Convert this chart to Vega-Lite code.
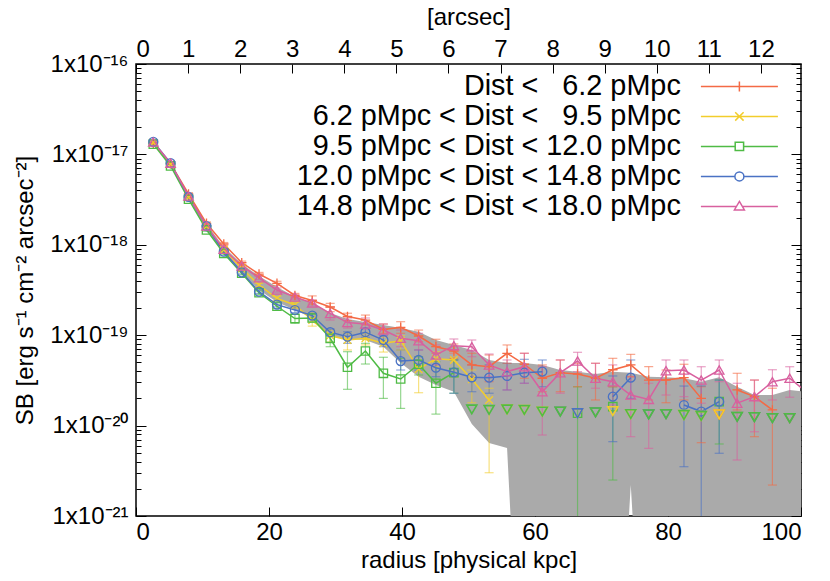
{
  "$schema": "https://vega.github.io/schema/vega-lite/v6.json",
  "description": "Surface brightness profiles in five distance bins, with the stacked 1-sigma band and upper limits.",
  "width": 665,
  "height": 452,
  "autosize": "none",
  "padding": {"left": 136, "top": 64, "right": 29, "bottom": 65},
  "config": {
    "font": "Liberation Sans",
    "view": {"stroke": "#000", "strokeWidth": 1.5},
    "axis": {
      "domain": false, "grid": false, "labelFontSize": 24, "titleFontSize": 24,
      "labelColor": "#000", "titleColor": "#000", "titleFontWeight": "normal",
      "tickColor": "#000", "tickWidth": 1, "labelOverlap": false
    },
    "point": {"filled": false, "size": 85, "strokeWidth": 1.3, "opacity": 1}
  },
  "datasets": {
    "band": [
      {"x": 2.6, "lo": 1.30e-17, "hi": 1.41e-17},
      {"x": 5.2, "lo": 7.44e-18, "hi": 8.03e-18},
      {"x": 7.9, "lo": 3.21e-18, "hi": 3.56e-18},
      {"x": 10.6, "lo": 1.46e-18, "hi": 1.70e-18},
      {"x": 13.2, "lo": 8.11e-19, "hi": 9.46e-19},
      {"x": 15.9, "lo": 5.0e-19, "hi": 6.13e-19},
      {"x": 18.5, "lo": 3.16e-19, "hi": 4.52e-19},
      {"x": 21.2, "lo": 2.33e-19, "hi": 3.41e-19},
      {"x": 23.9, "lo": 1.90e-19, "hi": 2.67e-19},
      {"x": 26.5, "lo": 1.55e-19, "hi": 2.27e-19},
      {"x": 29.2, "lo": 9.62e-20, "hi": 1.76e-19},
      {"x": 31.8, "lo": 9.08e-20, "hi": 1.51e-19},
      {"x": 34.5, "lo": 8.85e-20, "hi": 1.40e-19},
      {"x": 37.2, "lo": 7.46e-20, "hi": 1.30e-19},
      {"x": 39.8, "lo": 4.93e-20, "hi": 1.20e-19},
      {"x": 42.5, "lo": 3.47e-20, "hi": 1.09e-19},
      {"x": 45.1, "lo": 2.81e-20, "hi": 8.85e-20},
      {"x": 47.8, "lo": 2.37e-20, "hi": 7.80e-20},
      {"x": 50.5, "lo": 1.04e-20, "hi": 6.86e-20},
      {"x": 53.1, "lo": 6.42e-21, "hi": 5.32e-20},
      {"x": 55.8, "lo": 5.65e-21, "hi": 4.92e-20},
      {"x": 58.4, "lo": 1e-24, "hi": 4.92e-20},
      {"x": 61.1, "lo": 1e-24, "hi": 4.69e-20},
      {"x": 63.8, "lo": 1e-24, "hi": 4.12e-20},
      {"x": 66.4, "lo": 1e-24, "hi": 3.95e-20},
      {"x": 69.1, "lo": 1e-24, "hi": 3.72e-20},
      {"x": 71.7, "lo": 1e-24, "hi": 3.95e-20},
      {"x": 74.4, "lo": 2.2e-21, "hi": 3.85e-20},
      {"x": 77.1, "lo": 1e-24, "hi": 3.47e-20},
      {"x": 79.7, "lo": 1e-24, "hi": 3.42e-20},
      {"x": 82.4, "lo": 1e-24, "hi": 3.34e-20},
      {"x": 85.0, "lo": 1e-24, "hi": 3.06e-20},
      {"x": 87.7, "lo": 1e-24, "hi": 3.42e-20},
      {"x": 90.4, "lo": 1e-24, "hi": 2.69e-20},
      {"x": 93.0, "lo": 1e-24, "hi": 2.18e-20},
      {"x": 95.7, "lo": 1e-24, "hi": 2.18e-20},
      {"x": 98.3, "lo": 1e-24, "hi": 2.48e-20},
      {"x": 100.5, "lo": 1e-24, "hi": 2.37e-20}
    ],
    "sb": [
      {"d": 1, "x": 2.6, "y": 1.33e-17, "lo": 1.29e-17, "hi": 1.37e-17},
      {"d": 1, "x": 5.2, "y": 7.9e-18, "lo": 7.65e-18, "hi": 8.15e-18},
      {"d": 1, "x": 7.9, "y": 3.65e-18, "lo": 3.53e-18, "hi": 3.77e-18},
      {"d": 1, "x": 10.6, "y": 1.73e-18, "lo": 1.67e-18, "hi": 1.79e-18},
      {"d": 1, "x": 13.2, "y": 1.02e-18, "lo": 9.8e-19, "hi": 1.06e-18},
      {"d": 1, "x": 15.9, "y": 6.34e-19, "lo": 6.1e-19, "hi": 6.6e-19},
      {"d": 1, "x": 18.5, "y": 4.75e-19, "lo": 4.55e-19, "hi": 4.95e-19},
      {"d": 1, "x": 21.2, "y": 3.75e-19, "lo": 3.55e-19, "hi": 3.95e-19},
      {"d": 1, "x": 23.9, "y": 2.75e-19, "lo": 2.6e-19, "hi": 2.9e-19},
      {"d": 1, "x": 26.5, "y": 2.42e-19, "lo": 2.21e-19, "hi": 2.72e-19},
      {"d": 1, "x": 29.2, "y": 2.05e-19, "lo": 1.82e-19, "hi": 2.25e-19},
      {"d": 1, "x": 31.8, "y": 1.61e-19, "lo": 1.45e-19, "hi": 1.75e-19},
      {"d": 1, "x": 34.5, "y": 1.47e-19, "lo": 1.30e-19, "hi": 1.67e-19},
      {"d": 1, "x": 37.2, "y": 1.16e-19, "lo": 1.05e-19, "hi": 1.33e-19},
      {"d": 1, "x": 39.8, "y": 1.22e-19, "lo": 1.05e-19, "hi": 1.41e-19},
      {"d": 1, "x": 42.5, "y": 9.8e-20, "lo": 8.47e-20, "hi": 1.14e-19},
      {"d": 1, "x": 45.1, "y": 7.46e-20, "lo": 6.31e-20, "hi": 9.02e-20},
      {"d": 1, "x": 47.8, "y": 6.69e-20, "lo": 5.55e-20, "hi": 8.0e-20},
      {"d": 1, "x": 50.5, "y": 4.69e-20, "lo": 3.47e-20, "hi": 6.31e-20},
      {"d": 1, "x": 53.1, "y": 4.48e-20, "lo": 3.06e-20, "hi": 6.04e-20},
      {"d": 1, "x": 55.8, "y": 6.31e-20, "lo": 4.89e-20, "hi": 7.8e-20},
      {"d": 1, "x": 58.4, "y": 4.77e-20, "lo": 3.34e-20, "hi": 6.31e-20},
      {"d": 1, "x": 61.1, "y": 3.34e-20, "lo": 2.37e-20, "hi": 4.69e-20},
      {"d": 1, "x": 63.8, "y": 3.85e-20, "lo": 2.37e-20, "hi": 5.32e-20},
      {"d": 1, "x": 66.4, "y": 3.72e-20, "lo": 2.69e-20, "hi": 4.89e-20},
      {"d": 1, "x": 69.1, "y": 3.34e-20, "lo": 1.92e-20, "hi": 4.89e-20},
      {"d": 1, "x": 71.7, "y": 4.15e-20, "lo": 2.69e-20, "hi": 5.55e-20},
      {"d": 1, "x": 74.4, "y": 4.69e-20, "lo": 3.47e-20, "hi": 6.14e-20},
      {"d": 1, "x": 77.1, "y": 3.19e-20, "lo": 1.92e-20, "hi": 4.48e-20},
      {"d": 1, "x": 79.7, "y": 3.19e-20, "lo": 1.79e-20, "hi": 4.12e-20},
      {"d": 1, "x": 82.4, "y": 3.39e-20, "lo": 1.92e-20, "hi": 4.77e-20},
      {"d": 1, "x": 85.0, "y": 2.0e-20, "lo": 6.47e-21, "hi": 2.69e-20},
      {"d": 1, "x": 87.7, "ul": 1.33e-20},
      {"d": 1, "x": 90.4, "y": 2.48e-20, "lo": 1.49e-20, "hi": 3.79e-20},
      {"d": 1, "x": 93.0, "y": 2.09e-20, "lo": 7.54e-21, "hi": 3.19e-20},
      {"d": 1, "x": 95.7, "y": 1.49e-20, "lo": 2.2e-21, "hi": 2.59e-20},
      {"d": 1, "x": 98.3, "ul": 1.21e-20},

      {"d": 2, "x": 2.6, "y": 1.35e-17, "lo": 1.31e-17, "hi": 1.39e-17},
      {"d": 2, "x": 5.2, "y": 7.8e-18, "lo": 7.55e-18, "hi": 8.05e-18},
      {"d": 2, "x": 7.9, "y": 3.35e-18, "lo": 3.24e-18, "hi": 3.46e-18},
      {"d": 2, "x": 10.6, "y": 1.6e-18, "lo": 1.54e-18, "hi": 1.66e-18},
      {"d": 2, "x": 13.2, "y": 8.76e-19, "lo": 8.4e-19, "hi": 9.1e-19},
      {"d": 2, "x": 15.9, "y": 5.5e-19, "lo": 5.3e-19, "hi": 5.7e-19},
      {"d": 2, "x": 18.5, "y": 3.59e-19, "lo": 3.45e-19, "hi": 3.75e-19},
      {"d": 2, "x": 21.2, "y": 2.55e-19, "lo": 2.42e-19, "hi": 2.68e-19},
      {"d": 2, "x": 23.9, "y": 2.16e-19, "lo": 2.0e-19, "hi": 2.32e-19},
      {"d": 2, "x": 26.5, "y": 1.47e-19, "lo": 1.26e-19, "hi": 1.76e-19},
      {"d": 2, "x": 29.2, "y": 9.93e-20, "lo": 8.41e-20, "hi": 1.14e-19},
      {"d": 2, "x": 31.8, "y": 8.85e-20, "lo": 6.86e-20, "hi": 1.06e-19},
      {"d": 2, "x": 34.5, "y": 9.25e-20, "lo": 7.8e-20, "hi": 1.06e-19},
      {"d": 2, "x": 37.2, "y": 8.13e-20, "lo": 6.51e-20, "hi": 9.55e-20},
      {"d": 2, "x": 39.8, "y": 8.69e-20, "lo": 6.86e-20, "hi": 9.9e-20},
      {"d": 2, "x": 42.5, "y": 4.2e-20, "lo": 2.31e-20, "hi": 5.32e-20},
      {"d": 2, "x": 45.1, "y": 5.5e-20, "lo": 4.48e-20, "hi": 6.57e-20},
      {"d": 2, "x": 47.8, "y": 5.32e-20, "lo": 3.47e-20, "hi": 6.31e-20},
      {"d": 2, "x": 50.5, "y": 3.25e-20, "lo": 1.79e-20, "hi": 4.12e-20},
      {"d": 2, "x": 53.1, "y": 1.92e-20, "lo": 3.01e-21, "hi": 2.59e-20},
      {"d": 2, "x": 55.8, "ul": 1.51e-20},
      {"d": 2, "x": 58.4, "ul": 1.49e-20},
      {"d": 2, "x": 61.1, "ul": 1.43e-20},
      {"d": 2, "x": 63.8, "ul": 1.43e-20},
      {"d": 2, "x": 66.4, "ul": 1.37e-20},
      {"d": 2, "x": 69.1, "ul": 1.40e-20},
      {"d": 2, "x": 71.7, "ul": 1.45e-20},
      {"d": 2, "x": 74.4, "ul": 1.34e-20},
      {"d": 2, "x": 77.1, "ul": 1.33e-20},
      {"d": 2, "x": 79.7, "ul": 1.34e-20},
      {"d": 2, "x": 82.4, "ul": 1.31e-20},
      {"d": 2, "x": 85.0, "ul": 1.28e-20},
      {"d": 2, "x": 87.7, "ul": 1.33e-20},
      {"d": 2, "x": 90.4, "ul": 1.25e-20},
      {"d": 2, "x": 93.0, "ul": 1.24e-20},
      {"d": 2, "x": 95.7, "ul": 1.21e-20},
      {"d": 2, "x": 98.3, "ul": 1.21e-20},

      {"d": 3, "x": 2.6, "y": 1.30e-17, "lo": 1.26e-17, "hi": 1.34e-17},
      {"d": 3, "x": 5.2, "y": 7.45e-18, "lo": 7.2e-18, "hi": 7.7e-18},
      {"d": 3, "x": 7.9, "y": 3.19e-18, "lo": 3.08e-18, "hi": 3.3e-18},
      {"d": 3, "x": 10.6, "y": 1.46e-18, "lo": 1.41e-18, "hi": 1.51e-18},
      {"d": 3, "x": 13.2, "y": 8.05e-19, "lo": 7.75e-19, "hi": 8.35e-19},
      {"d": 3, "x": 15.9, "y": 4.84e-19, "lo": 4.65e-19, "hi": 5.05e-19},
      {"d": 3, "x": 18.5, "y": 2.95e-19, "lo": 2.82e-19, "hi": 3.08e-19},
      {"d": 3, "x": 21.2, "y": 2.09e-19, "lo": 1.97e-19, "hi": 2.21e-19},
      {"d": 3, "x": 23.9, "y": 1.53e-19, "lo": 1.35e-19, "hi": 1.72e-19},
      {"d": 3, "x": 26.5, "y": 1.55e-19, "lo": 1.40e-19, "hi": 1.72e-19},
      {"d": 3, "x": 29.2, "y": 9.24e-20, "lo": 7.46e-20, "hi": 1.0e-19},
      {"d": 3, "x": 31.8, "y": 4.42e-20, "lo": 2.52e-20, "hi": 6.57e-20},
      {"d": 3, "x": 34.5, "y": 6.69e-20, "lo": 4.8e-20, "hi": 8.13e-20},
      {"d": 3, "x": 37.2, "y": 3.79e-20, "lo": 2.0e-20, "hi": 5.7e-20},
      {"d": 3, "x": 39.8, "y": 3.28e-20, "lo": 1.55e-20, "hi": 5.55e-20},
      {"d": 3, "x": 42.5, "y": 4.77e-20, "lo": 3.63e-20, "hi": 5.78e-20},
      {"d": 3, "x": 45.1, "y": 2.94e-20, "lo": 1.34e-20, "hi": 5.09e-20},
      {"d": 3, "x": 47.8, "y": 3.85e-20, "lo": 2.28e-20, "hi": 5.32e-20},
      {"d": 3, "x": 50.5, "ul": 1.51e-20},
      {"d": 3, "x": 53.1, "ul": 1.49e-20},
      {"d": 3, "x": 55.8, "ul": 1.51e-20},
      {"d": 3, "x": 58.4, "ul": 1.49e-20},
      {"d": 3, "x": 61.1, "ul": 1.43e-20},
      {"d": 3, "x": 63.8, "ul": 1.43e-20},
      {"d": 3, "x": 66.4, "y": 1.37e-20, "lo": 1e-24, "hi": 2.69e-20},
      {"d": 3, "x": 69.1, "ul": 1.40e-20},
      {"d": 3, "x": 71.7, "y": 1.62e-20, "lo": 2.5e-21, "hi": 2.69e-20},
      {"d": 3, "x": 74.4, "ul": 1.34e-20},
      {"d": 3, "x": 77.1, "ul": 1.33e-20},
      {"d": 3, "x": 79.7, "ul": 1.34e-20},
      {"d": 3, "x": 82.4, "ul": 1.31e-20},
      {"d": 3, "x": 85.0, "ul": 1.28e-20},
      {"d": 3, "x": 87.7, "y": 1.84e-20, "lo": 6.26e-21, "hi": 3.19e-20},
      {"d": 3, "x": 90.4, "ul": 1.25e-20},
      {"d": 3, "x": 93.0, "ul": 1.24e-20},
      {"d": 3, "x": 95.7, "ul": 1.21e-20},
      {"d": 3, "x": 98.3, "ul": 1.21e-20},

      {"d": 4, "x": 2.6, "y": 1.38e-17, "lo": 1.34e-17, "hi": 1.42e-17},
      {"d": 4, "x": 5.2, "y": 8.0e-18, "lo": 7.75e-18, "hi": 8.25e-18},
      {"d": 4, "x": 7.9, "y": 3.38e-18, "lo": 3.27e-18, "hi": 3.49e-18},
      {"d": 4, "x": 10.6, "y": 1.61e-18, "lo": 1.55e-18, "hi": 1.67e-18},
      {"d": 4, "x": 13.2, "y": 8.39e-19, "lo": 8.05e-19, "hi": 8.75e-19},
      {"d": 4, "x": 15.9, "y": 4.96e-19, "lo": 4.77e-19, "hi": 5.16e-19},
      {"d": 4, "x": 18.5, "y": 3.03e-19, "lo": 2.9e-19, "hi": 3.17e-19},
      {"d": 4, "x": 21.2, "y": 2.18e-19, "lo": 2.06e-19, "hi": 2.3e-19},
      {"d": 4, "x": 23.9, "y": 1.90e-19, "lo": 1.78e-19, "hi": 2.03e-19},
      {"d": 4, "x": 26.5, "y": 1.65e-19, "lo": 1.47e-19, "hi": 1.75e-19},
      {"d": 4, "x": 29.2, "y": 1.08e-19, "lo": 9.8e-20, "hi": 1.17e-19},
      {"d": 4, "x": 31.8, "y": 9.62e-20, "lo": 8.13e-20, "hi": 1.09e-19},
      {"d": 4, "x": 34.5, "y": 1.08e-19, "lo": 9.48e-20, "hi": 1.19e-19},
      {"d": 4, "x": 37.2, "y": 8.85e-20, "lo": 7.46e-20, "hi": 1.0e-19},
      {"d": 4, "x": 39.8, "y": 5.18e-20, "lo": 4.12e-20, "hi": 6.86e-20},
      {"d": 4, "x": 42.5, "y": 5.32e-20, "lo": 4.12e-20, "hi": 6.86e-20},
      {"d": 4, "x": 45.1, "y": 4.37e-20, "lo": 3.47e-20, "hi": 5.55e-20},
      {"d": 4, "x": 47.8, "y": 3.89e-20, "lo": 2.28e-20, "hi": 5.32e-20},
      {"d": 4, "x": 50.5, "y": 3.42e-20, "lo": 2.37e-20, "hi": 4.69e-20},
      {"d": 4, "x": 53.1, "y": 3.39e-20, "lo": 2.28e-20, "hi": 4.69e-20},
      {"d": 4, "x": 55.8, "y": 3.54e-20, "lo": 2.48e-20, "hi": 4.89e-20},
      {"d": 4, "x": 58.4, "y": 3.85e-20, "lo": 2.94e-20, "hi": 5.41e-20},
      {"d": 4, "x": 61.1, "y": 3.95e-20, "lo": 2.69e-20, "hi": 5.32e-20},
      {"d": 4, "x": 63.8, "ul": 1.43e-20},
      {"d": 4, "x": 66.4, "ul": 1.37e-20},
      {"d": 4, "x": 69.1, "ul": 1.40e-20},
      {"d": 4, "x": 71.7, "y": 2.09e-20, "lo": 6.64e-21, "hi": 3.54e-20},
      {"d": 4, "x": 74.4, "y": 3.39e-20, "lo": 2.0e-20, "hi": 5.32e-20},
      {"d": 4, "x": 77.1, "ul": 1.33e-20},
      {"d": 4, "x": 79.7, "ul": 1.34e-20},
      {"d": 4, "x": 82.4, "y": 1.69e-20, "lo": 3.51e-21, "hi": 2.74e-20},
      {"d": 4, "x": 85.0, "y": 1.43e-20, "lo": 1e-24, "hi": 2.74e-20},
      {"d": 4, "x": 87.7, "y": 1.84e-20, "lo": 4.94e-21, "hi": 3.19e-20},
      {"d": 4, "x": 90.4, "ul": 1.25e-20},
      {"d": 4, "x": 93.0, "ul": 1.24e-20},
      {"d": 4, "x": 95.7, "ul": 1.21e-20},
      {"d": 4, "x": 98.3, "ul": 1.21e-20},

      {"d": 5, "x": 2.6, "y": 1.37e-17, "lo": 1.33e-17, "hi": 1.41e-17},
      {"d": 5, "x": 5.2, "y": 8.0e-18, "lo": 7.75e-18, "hi": 8.25e-18},
      {"d": 5, "x": 7.9, "y": 3.46e-18, "lo": 3.35e-18, "hi": 3.57e-18},
      {"d": 5, "x": 10.6, "y": 1.61e-18, "lo": 1.55e-18, "hi": 1.67e-18},
      {"d": 5, "x": 13.2, "y": 8.92e-19, "lo": 8.6e-19, "hi": 9.25e-19},
      {"d": 5, "x": 15.9, "y": 5.83e-19, "lo": 5.6e-19, "hi": 6.05e-19},
      {"d": 5, "x": 18.5, "y": 4.31e-19, "lo": 4.12e-19, "hi": 4.5e-19},
      {"d": 5, "x": 21.2, "y": 3.16e-19, "lo": 3.0e-19, "hi": 3.33e-19},
      {"d": 5, "x": 23.9, "y": 2.65e-19, "lo": 2.5e-19, "hi": 2.8e-19},
      {"d": 5, "x": 26.5, "y": 2.27e-19, "lo": 2.10e-19, "hi": 2.45e-19},
      {"d": 5, "x": 29.2, "y": 1.74e-19, "lo": 1.47e-19, "hi": 2.05e-19},
      {"d": 5, "x": 31.8, "y": 1.38e-19, "lo": 1.20e-19, "hi": 1.55e-19},
      {"d": 5, "x": 34.5, "y": 1.33e-19, "lo": 1.17e-19, "hi": 1.55e-19},
      {"d": 5, "x": 37.2, "y": 1.14e-19, "lo": 9.8e-20, "hi": 1.33e-19},
      {"d": 5, "x": 39.8, "y": 9.25e-20, "lo": 7.46e-20, "hi": 1.14e-19},
      {"d": 5, "x": 42.5, "y": 8.69e-20, "lo": 6.86e-20, "hi": 1.05e-19},
      {"d": 5, "x": 45.1, "y": 6.05e-20, "lo": 4.69e-20, "hi": 7.8e-20},
      {"d": 5, "x": 47.8, "y": 7.66e-20, "lo": 6.31e-20, "hi": 9.08e-20},
      {"d": 5, "x": 50.5, "y": 7.46e-20, "lo": 5.78e-20, "hi": 8.85e-20},
      {"d": 5, "x": 53.1, "y": 4.69e-20, "lo": 3.47e-20, "hi": 6.19e-20},
      {"d": 5, "x": 55.8, "y": 3.95e-20, "lo": 2.48e-20, "hi": 5.32e-20},
      {"d": 5, "x": 58.4, "y": 4.48e-20, "lo": 2.94e-20, "hi": 6.31e-20},
      {"d": 5, "x": 61.1, "y": 2.37e-20, "lo": 7.87e-21, "hi": 4.48e-20},
      {"d": 5, "x": 63.8, "y": 3.85e-20, "lo": 2.28e-20, "hi": 5.32e-20},
      {"d": 5, "x": 66.4, "y": 5.18e-20, "lo": 3.95e-20, "hi": 6.47e-20},
      {"d": 5, "x": 69.1, "y": 3.34e-20, "lo": 2.59e-20, "hi": 4.89e-20},
      {"d": 5, "x": 71.7, "y": 3.06e-20, "lo": 1.69e-20, "hi": 4.69e-20},
      {"d": 5, "x": 74.4, "y": 2.18e-20, "lo": 7.54e-21, "hi": 3.47e-20},
      {"d": 5, "x": 77.1, "y": 1.95e-20, "lo": 5.61e-21, "hi": 2.94e-20},
      {"d": 5, "x": 79.7, "y": 4.05e-20, "lo": 2.18e-20, "hi": 5.32e-20},
      {"d": 5, "x": 82.4, "y": 4.12e-20, "lo": 2.09e-20, "hi": 5.32e-20},
      {"d": 5, "x": 85.0, "y": 3.19e-20, "lo": 1.77e-20, "hi": 4.48e-20},
      {"d": 5, "x": 87.7, "y": 4.12e-20, "lo": 3.06e-20, "hi": 5.32e-20},
      {"d": 5, "x": 90.4, "y": 1.77e-20, "lo": 4.16e-21, "hi": 2.94e-20},
      {"d": 5, "x": 93.0, "y": 2.09e-20, "lo": 8.55e-21, "hi": 3.19e-20},
      {"d": 5, "x": 95.7, "y": 3.06e-20, "lo": 1.92e-20, "hi": 4.15e-20},
      {"d": 5, "x": 98.3, "y": 3.34e-20, "lo": 2.06e-20, "hi": 4.48e-20},
      {"d": 5, "x": 101.0, "y": 2.29e-20}
    ]
  },
  "layer": [
    {
      "data": {"name": "band"},
      "mark": {"type": "area", "color": "#aaaaaa", "clip": true},
      "encoding": {
        "x": {
          "field": "x", "type": "quantitative",
          "scale": {"domain": [0, 100]},
          "axis": {
            "orient": "bottom", "values": [0, 20, 40, 60, 80, 100],
            "tickSize": -9, "labelPadding": 13, "titlePadding": 4,
            "title": "radius [physical kpc]"
          }
        },
        "y": {
          "field": "lo", "type": "quantitative",
          "scale": {"type": "log", "domain": [1e-21, 1e-16]},
          "axis": {
            "orient": "left",
            "values": [1e-21, 2e-21, 3e-21, 4e-21, 5e-21, 6e-21, 7e-21, 8e-21, 9e-21,
                       1e-20, 2e-20, 3e-20, 4e-20, 5e-20, 6e-20, 7e-20, 8e-20, 9e-20,
                       1e-19, 2e-19, 3e-19, 4e-19, 5e-19, 6e-19, 7e-19, 8e-19, 9e-19,
                       1e-18, 2e-18, 3e-18, 4e-18, 5e-18, 6e-18, 7e-18, 8e-18, 9e-18,
                       1e-17, 2e-17, 3e-17, 4e-17, 5e-17, 6e-17, 7e-17, 8e-17, 9e-17, 1e-16],
            "labelExpr": "abs(log(datum.value)/LN10 - round(log(datum.value)/LN10)) < 0.001 ? '1x10' + ['⁻²¹','⁻²⁰','⁻¹⁹','⁻¹⁸','⁻¹⁷','⁻¹⁶'][round(log(datum.value)/LN10) + 21] : ''",
            "tickSize": {"condition": {"test": "abs(log(datum.value)/LN10 - round(log(datum.value)/LN10)) < 0.001", "value": -10}, "value": -5},
            "labelPadding": 18,
            "titlePadding": 12,
            "title": "SB [erg s⁻¹ cm⁻² arcsec⁻²]"
          }
        },
        "y2": {"field": "hi"}
      }
    },
    {
      "data": {"name": "sb"},
      "mark": {"type": "rule", "strokeWidth": 1.2, "opacity": 0.6, "clip": true},
      "encoding": {
        "x": {"field": "x", "type": "quantitative", "scale": {"domain": [0, 100]}, "axis": null},
        "y": {"field": "lo", "type": "quantitative", "scale": {"type": "log", "domain": [1e-21, 1e-16]}, "axis": null},
        "y2": {"field": "hi"},
        "color": {"field": "d", "type": "nominal"}
      }
    },
    {
      "data": {"name": "sb"},
      "mark": {"type": "tick", "orient": "horizontal", "size": 9, "thickness": 1.2, "opacity": 0.6, "clip": true},
      "encoding": {
        "x": {"field": "x", "type": "quantitative", "scale": {"domain": [0, 100]}, "axis": null},
        "y": {"field": "hi", "type": "quantitative", "scale": {"type": "log", "domain": [1e-21, 1e-16]}, "axis": null},
        "color": {"field": "d", "type": "nominal"}
      }
    },
    {
      "data": {"name": "sb"},
      "mark": {"type": "tick", "orient": "horizontal", "size": 9, "thickness": 1.2, "opacity": 0.6, "clip": true},
      "encoding": {
        "x": {"field": "x", "type": "quantitative", "scale": {"domain": [0, 100]}, "axis": null},
        "y": {"field": "lo", "type": "quantitative", "scale": {"type": "log", "domain": [1e-21, 1e-16]}, "axis": null},
        "color": {"field": "d", "type": "nominal"}
      }
    },
    {
      "data": {"name": "sb"},
      "mark": {"type": "line", "strokeWidth": 1.5, "clip": true, "invalid": "break-paths-filter-domains"},
      "encoding": {
        "x": {"field": "x", "type": "quantitative", "scale": {"domain": [0, 100]}, "axis": null},
        "y": {"field": "y", "type": "quantitative", "scale": {"type": "log", "domain": [1e-21, 1e-16]}, "axis": null},
        "color": {
          "field": "d", "type": "nominal",
          "scale": {"domain": [1, 2, 3, 4, 5], "range": ["#f46a45", "#f2cd2c", "#4fbb45", "#4a72c4", "#d8609f"]},
          "legend": {
            "orient": "none", "legendX": 589, "legendY": 8, "title": null, "padding": 0,
            "labelExpr": "['Dist <\u00a0\u00a0\u00a06.2 pMpc', '6.2 pMpc < Dist <\u00a0\u00a0\u00a09.5 pMpc', '9.5 pMpc < Dist < 12.0 pMpc', '12.0 pMpc < Dist < 14.8 pMpc', '14.8 pMpc < Dist < 18.0 pMpc'][datum.value - 1]",
            "symbolType": "M-3.85,0H3.85", "symbolSize": 400, "symbolStrokeWidth": 1.5, "symbolOpacity": 1,
            "symbolFillColor": "transparent",
            "labelFontSize": 28.8, "labelColor": "#000", "labelAlign": "right", "labelOffset": -73,
            "labelLimit": 600, "rowPadding": 0,
            "encode": {
              "symbols": {
                "update": {
                  "shape": {"signal": "datum.value == 1 ? 'M-3.85,0H3.85M0,-0.5V0.5' : datum.value == 2 ? 'M-3.85,0H3.85M-0.42,-0.42L0.42,0.42M-0.42,0.42L0.42,-0.42' : datum.value == 3 ? 'M-3.85,0H-0.42M0.42,0H3.85M-0.42,-0.42H0.42V0.42H-0.42Z' : datum.value == 4 ? 'M-3.85,0H-0.45M0.45,0H3.85M0.45,0A0.45,0.45 0 1 1 -0.45,0A0.45,0.45 0 1 1 0.45,0' : 'M-3.85,0H-0.29M0.29,0H3.85M0,-0.5L0.5,0.35H-0.5Z'"},
                  "fill": {"value": "transparent"},
                  "fillOpacity": {"value": 0}
                }
              }
            }
          }
        }
      }
    },
    {
      "data": {"name": "sb"},
      "transform": [{"filter": "datum.d == 1"}],
      "mark": {"type": "point", "shape": "M-1,0H1M0,-1V1", "size": 90, "clip": true},
      "encoding": {
        "x": {"field": "x", "type": "quantitative", "scale": {"domain": [0, 100]}, "axis": null},
        "y": {"field": "y", "type": "quantitative", "scale": {"type": "log", "domain": [1e-21, 1e-16]}, "axis": null},
        "color": {"field": "d", "type": "nominal"}
      }
    },
    {
      "data": {"name": "sb"},
      "transform": [{"filter": "datum.d == 2"}],
      "mark": {"type": "point", "shape": "M-0.8,-0.8L0.8,0.8M-0.8,0.8L0.8,-0.8", "size": 90, "clip": true},
      "encoding": {
        "x": {"field": "x", "type": "quantitative", "scale": {"domain": [0, 100]}, "axis": null},
        "y": {"field": "y", "type": "quantitative", "scale": {"type": "log", "domain": [1e-21, 1e-16]}, "axis": null},
        "color": {"field": "d", "type": "nominal"}
      }
    },
    {
      "data": {"name": "sb"},
      "transform": [{"filter": "datum.d == 3"}],
      "mark": {"type": "point", "shape": "square", "size": 70, "clip": true},
      "encoding": {
        "x": {"field": "x", "type": "quantitative", "scale": {"domain": [0, 100]}, "axis": null},
        "y": {"field": "y", "type": "quantitative", "scale": {"type": "log", "domain": [1e-21, 1e-16]}, "axis": null},
        "color": {"field": "d", "type": "nominal"}
      }
    },
    {
      "data": {"name": "sb"},
      "transform": [{"filter": "datum.d == 4"}],
      "mark": {"type": "point", "shape": "circle", "size": 80, "clip": true},
      "encoding": {
        "x": {"field": "x", "type": "quantitative", "scale": {"domain": [0, 100]}, "axis": null},
        "y": {"field": "y", "type": "quantitative", "scale": {"type": "log", "domain": [1e-21, 1e-16]}, "axis": null},
        "color": {"field": "d", "type": "nominal"}
      }
    },
    {
      "data": {"name": "sb"},
      "transform": [{"filter": "datum.d == 5"}],
      "mark": {"type": "point", "shape": "triangle-up", "size": 90, "clip": true},
      "encoding": {
        "x": {"field": "x", "type": "quantitative", "scale": {"domain": [0, 100]}, "axis": null},
        "y": {"field": "y", "type": "quantitative", "scale": {"type": "log", "domain": [1e-21, 1e-16]}, "axis": null},
        "color": {"field": "d", "type": "nominal"}
      }
    },
    {
      "data": {"name": "sb"},
      "transform": [{"filter": "datum.d != 3"}],
      "mark": {"type": "point", "shape": "triangle-down", "size": 100, "strokeWidth": 1.6, "clip": true},
      "encoding": {
        "x": {"field": "x", "type": "quantitative", "scale": {"domain": [0, 100]}, "axis": null},
        "y": {"field": "ul", "type": "quantitative", "scale": {"type": "log", "domain": [1e-21, 1e-16]}, "axis": null},
        "color": {"field": "d", "type": "nominal"}
      }
    },
    {
      "data": {"name": "sb"},
      "transform": [{"filter": "datum.d == 3"}],
      "mark": {"type": "point", "shape": "triangle-down", "size": 100, "strokeWidth": 1.6, "clip": true},
      "encoding": {
        "x": {"field": "x", "type": "quantitative", "scale": {"domain": [0, 100]}, "axis": null},
        "y": {"field": "ul", "type": "quantitative", "scale": {"type": "log", "domain": [1e-21, 1e-16]}, "axis": null},
        "color": {"field": "d", "type": "nominal"}
      }
    },
    {
      "data": {"name": "band"},
      "mark": {"type": "point", "opacity": 0, "clip": true},
      "encoding": {
        "x": {
          "field": "x", "type": "quantitative",
          "scale": {"domain": [0, 12.77]},
          "axis": {
            "orient": "top", "values": [0, 1, 2, 3, 4, 5, 6, 7, 8, 9, 10, 11, 12],
            "tickSize": -9, "labelPadding": 12, "titlePadding": 8, "title": "[arcsec]"
          }
        },
        "y": {
          "field": "hi", "type": "quantitative",
          "scale": {"type": "log", "domain": [1e-21, 1e-16]},
          "axis": {
            "orient": "right", "labels": false, "title": null,
            "values": [1e-21, 2e-21, 3e-21, 4e-21, 5e-21, 6e-21, 7e-21, 8e-21, 9e-21,
                       1e-20, 2e-20, 3e-20, 4e-20, 5e-20, 6e-20, 7e-20, 8e-20, 9e-20,
                       1e-19, 2e-19, 3e-19, 4e-19, 5e-19, 6e-19, 7e-19, 8e-19, 9e-19,
                       1e-18, 2e-18, 3e-18, 4e-18, 5e-18, 6e-18, 7e-18, 8e-18, 9e-18,
                       1e-17, 2e-17, 3e-17, 4e-17, 5e-17, 6e-17, 7e-17, 8e-17, 9e-17, 1e-16],
            "tickSize": {"condition": {"test": "abs(log(datum.value)/LN10 - round(log(datum.value)/LN10)) < 0.001", "value": -10}, "value": -5}
          }
        }
      }
    }
  ],
  "resolve": {"scale": {"x": "independent"}, "axis": {"x": "independent", "y": "independent"}}
}
